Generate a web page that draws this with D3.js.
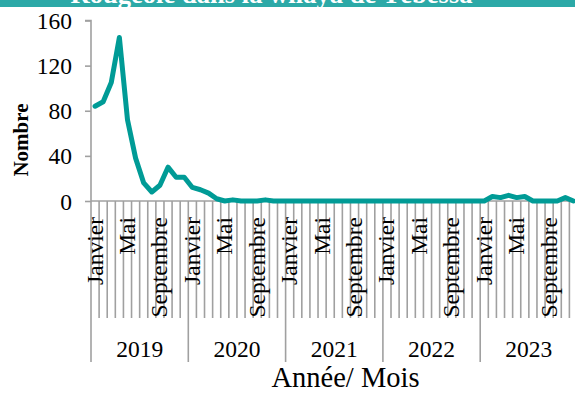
<!DOCTYPE html>
<html>
<head>
<meta charset="utf-8">
<script src="https://cdn.jsdelivr.net/npm/d3@7/dist/d3.min.js"></script>
<style>
  html, body { margin: 0; padding: 0; background: #fff; overflow: hidden; }
  svg { display: block; font-family: "Liberation Serif", "Times New Roman", serif; }
</style>
</head>
<body>
<svg id="chart" width="575" height="394"></svg>
<script>
const title = "Rougeole dans la wilaya de Tébessa";
const years = ["2019", "2020", "2021", "2022", "2023"];
const months = ["Janvier", "Février", "Mars", "Avril", "Mai", "Juin", "Juillet", "Août", "Septembre", "Octobre", "Novembre", "Décembre"];
const values2019 = [84, 88, 105, 145, 72, 38, 16, 8, 14, 30, 21, 21];
const values2020 = [12, 10, 7, 2, 0, 1, 0, 0, 0, 1, 0, 0];
const values2021 = [0, 0, 0, 0, 0, 0, 0, 0, 0, 0, 0, 0];
const values2022 = [0, 0, 0, 0, 0, 0, 0, 0, 0, 0, 0, 0];
const values2023 = [0, 4, 3, 5, 3, 4, 0, 0, 0, 0, 3, 0];
const yTicks = [0, 40, 80, 120, 160];
const yLabel = "Nombre";
const xLabel = "Année/ Mois";

const series = [values2019, values2020, values2021, values2022, values2023];
const data = [];
series.forEach((vals, yi) => vals.forEach((v, mi) => data.push({ key: years[yi] + "-" + mi, year: years[yi], month: months[mi], mi, value: v })));

const svg = d3.select("#chart");
const W = 575, H = 394;
const pLeft = 91, pRight = 577.5, pTop = 20.5, pBottom = 201;

const x = d3.scaleBand().domain(data.map(d => d.key)).range([pLeft, pRight]).paddingInner(0).paddingOuter(0);
const y = d3.scaleLinear().domain([0, 160]).range([pBottom, pTop]);

const axisColor = "#a0a0a0";
const lineColor = "#009b96";

// Banner + title (cut off at the top)
svg.append("rect").attr("x", 0).attr("y", 0).attr("width", W).attr("height", 7).attr("fill", "#2ca9a7");
svg.append("text").attr("x", 271.5).attr("y", 3).attr("text-anchor", "middle")
  .attr("font-size", 26.6).attr("font-weight", "bold").attr("fill", "#fff").text(title);

// Month tick lines & year separators
const bw = x.bandwidth();
const boundaries = d3.range(0, data.length + 1);
svg.append("g").selectAll("line").data(boundaries).join("line")
  .attr("x1", k => pLeft + k * bw).attr("x2", k => pLeft + k * bw)
  .attr("y1", pBottom).attr("y2", k => (k % 12 === 0) ? 362 : 318)
  .attr("stroke", axisColor).attr("stroke-width", 1.6);

// Y axis
const yAxis = d3.axisLeft(y).tickValues(yTicks).tickSize(6).tickPadding(13);
const gy = svg.append("g").attr("transform", `translate(${pLeft},0)`).call(yAxis);
gy.select(".domain").attr("stroke", axisColor).attr("stroke-width", 1.6).attr("d", `M-6,${pTop}H0V${pBottom}`);
gy.selectAll(".tick line").attr("stroke", axisColor).attr("stroke-width", 1.6);
gy.selectAll(".tick text").attr("font-size", 23.5).attr("fill", "#000").attr("font-family", "Liberation Serif").attr("dy", "0.34em");

// X axis line
svg.append("line").attr("x1", pLeft).attr("x2", W).attr("y1", pBottom).attr("y2", pBottom)
  .attr("stroke", axisColor).attr("stroke-width", 1.6);

// Month labels (every 4th)
svg.append("g").selectAll("text").data(data.filter(d => d.mi % 4 === 0)).join("text")
  .attr("transform", d => `translate(${x(d.key) + bw / 2 + 7.5},${217}) rotate(-90)`)
  .attr("text-anchor", "end").attr("font-size", 23.5).attr("fill", "#000")
  .text(d => d.month);

// Year labels
svg.append("g").selectAll("text").data(years).join("text")
  .attr("x", (yr, i) => pLeft + (i * 12 + 6) * bw)
  .attr("y", 357).attr("text-anchor", "middle").attr("font-size", 23.5).attr("fill", "#000")
  .text(d => d);

// Axis titles
svg.append("text").attr("transform", `translate(28,140) rotate(-90)`).attr("text-anchor", "middle")
  .attr("font-size", 21).attr("font-weight", "bold").attr("fill", "#000").text(yLabel);
svg.append("text").attr("x", 345.5).attr("y", 387).attr("text-anchor", "middle")
  .attr("font-size", 28.5).attr("fill", "#000").text(xLabel);

// Line
const line = d3.line().x(d => x(d.key) + bw / 2).y(d => y(d.value));
svg.append("path").datum(data).attr("d", line).attr("fill", "none")
  .attr("stroke", lineColor).attr("stroke-width", 5).attr("stroke-linejoin", "round").attr("stroke-linecap", "round");
</script>
</body>
</html>
